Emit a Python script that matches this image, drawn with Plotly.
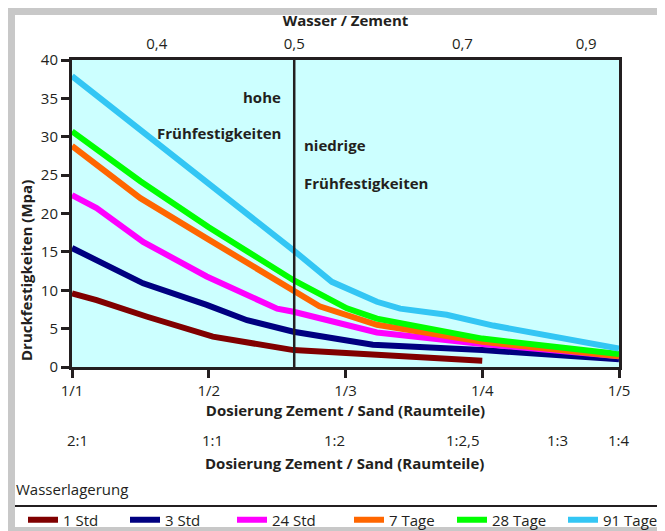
import plotly.graph_objects as go

# ---- data ----
series_names = ["1 Std", "3 Std", "24 Std", "7 Tage", "28 Tage", "91 Tage"]
series_colors = ["#800000", "#000080", "#ff00ff", "#ff6600", "#00ff00", "#33c6f4"]

x_1std = [1, 1.18, 1.55, 2.03, 2.62, 3.25, 4.0]
y_1std = [9.6, 8.7, 6.55, 3.95, 2.2, 1.6, 0.8]

x_3std = [1, 1.52, 1.985, 2.28, 2.62, 3.2, 4.0, 5]
y_3std = [15.5, 10.9, 8.1, 6.1, 4.6, 2.9, 2.2, 1.0]

x_24std = [1, 1.18, 1.52, 1.985, 2.5, 2.62, 3.23, 4.0, 5]
y_24std = [22.4, 20.7, 16.3, 11.8, 7.6, 7.2, 4.5, 3.0, 1.4]

x_7tage = [1, 1.5, 2.0, 2.62, 2.81, 3.23, 4.0, 5]
y_7tage = [28.8, 22.0, 16.6, 9.8, 7.9, 5.5, 3.3, 1.4]

x_28tage = [1, 1.5, 2.0, 2.62, 3.01, 3.23, 4.0, 5]
y_28tage = [30.7, 24.2, 18.2, 11.3, 7.65, 6.3, 3.7, 1.7]

x_91tage = [1, 2.0, 2.62, 2.9, 3.23, 3.4, 3.74, 4.08, 5]
y_91tage = [37.9, 24.0, 15.2, 11.1, 8.5, 7.6, 6.8, 5.4, 2.4]

xs = [x_1std, x_3std, x_24std, x_7tage, x_28tage, x_91tage]
ys = [y_1std, y_3std, y_24std, y_7tage, y_28tage, y_91tage]

bottom_tickvals = [1, 2, 3, 4, 5]
bottom_ticktext = ["1/1", "1/2", "1/3", "1/4", "1/5"]

wz_tickvals = [1.62, 2.625, 3.855, 4.76]
wz_ticktext = ["0,4", "0,5", "0,7", "0,9"]
wz_divider = 2.625

ratio_pos = [1.04, 2.03, 2.92, 3.86, 4.55, 5.0]
ratio_text = ["2:1", "1:1", "1:2", "1:2,5", "1:3", "1:4"]

FONT = "Open Sans"
DARK = "#231f20"
FS = 15

# page body has an 8px offset in the browser; figure sized to fit the window
OFF = 8
W, H = 665 - OFF, 531 - OFF
L, R, T, B = 72 - OFF, 665 - 619, 60 - OFF, 531 - 367
pw, ph = W - L - R, H - T - B


def px_x(sx):
    """screen x pixel -> paper fraction"""
    return (sx - OFF - L) / pw


def px_y(sy):
    """screen y pixel -> paper fraction"""
    return (H - B - (sy - OFF)) / ph


legend_swatch_x = [28, 130, 237, 354, 457, 568]

fig = go.Figure()
for i, (name, color, x, y) in enumerate(zip(series_names, series_colors, xs, ys)):
    lg = "legend" if i == 0 else f"legend{i + 1}"
    fig.add_trace(go.Scatter(x=x, y=y, mode="lines", name=name, legend=lg,
                             line=dict(color=color, width=6)))

# invisible trace to carry the top axis
fig.add_trace(go.Scatter(x=[1, 5], y=[None, None], xaxis="x2", mode="lines",
                         showlegend=False, hoverinfo="skip"))

shapes = [
    # grey frame bands
    dict(type="rect", xref="paper", yref="paper", x0=px_x(0), x1=px_x(700),
         y0=px_y(0), y1=px_y(15), fillcolor="#c8c8c8", line=dict(width=0), layer="below"),
    dict(type="rect", xref="paper", yref="paper", x0=px_x(0), x1=px_x(15),
         y0=px_y(0), y1=px_y(540), fillcolor="#c8c8c8", line=dict(width=0), layer="below"),
    dict(type="rect", xref="paper", yref="paper", x0=px_x(0), x1=px_x(700),
         y0=px_y(527), y1=px_y(540), fillcolor="#c8c8c8", line=dict(width=0), layer="below"),
    # separator above legend
    dict(type="line", xref="paper", yref="paper", x0=px_x(15), x1=px_x(700),
         y0=px_y(506), y1=px_y(506), line=dict(color=DARK, width=2)),
    # W/Z = 0.5 divider
    dict(type="line", xref="x", yref="y", x0=wz_divider, x1=wz_divider, y0=0, y1=40,
         line=dict(color=DARK, width=2.5)),
]

annotations = [
    dict(text="<b>Druckfestigkeiten (Mpa)</b>", xref="paper", yref="paper",
         x=px_x(26), y=px_y(271), textangle=-90, showarrow=False,
         xanchor="center", yanchor="middle",
         font=dict(size=FS, color=DARK, family=FONT)),
    dict(text="<b>hohe</b>", xref="x", yref="y", x=2.545, y=35.2, xanchor="right",
         yanchor="middle", showarrow=False, font=dict(size=FS, color=DARK, family=FONT)),
    dict(text="<b>Frühfestigkeiten</b>", xref="x", yref="y", x=2.545, y=30.5, xanchor="right",
         yanchor="middle", showarrow=False, font=dict(size=FS, color=DARK, family=FONT)),
    dict(text="<b>niedrige</b>", xref="x", yref="y", x=2.68, y=28.9, xanchor="left",
         yanchor="middle", showarrow=False, font=dict(size=FS, color=DARK, family=FONT)),
    dict(text="<b>Frühfestigkeiten</b>", xref="x", yref="y", x=2.68, y=24.0, xanchor="left",
         yanchor="middle", showarrow=False, font=dict(size=FS, color=DARK, family=FONT)),
    dict(text="<b>Dosierung Zement / Sand (Raumteile)</b>", xref="paper", yref="paper",
         x=px_x(344), y=px_y(463), showarrow=False, xanchor="center", yanchor="middle",
         font=dict(size=FS, color=DARK, family=FONT)),
    dict(text="Wasserlagerung", xref="paper", yref="paper", x=px_x(14), y=px_y(489),
         xanchor="left", yanchor="middle", showarrow=False,
         font=dict(size=FS, color=DARK, family=FONT)),
]
for xp, t in zip(ratio_pos, ratio_text):
    annotations.append(dict(text=t, xref="x", yref="paper", x=xp, y=px_y(440),
                            xanchor="center", yanchor="middle", showarrow=False,
                            font=dict(size=FS, color=DARK, family=FONT)))

legends = {}
for i, sx in enumerate(legend_swatch_x):
    key = "legend" if i == 0 else f"legend{i + 1}"
    legends[key] = dict(orientation="h", x=px_x(sx - 5), xanchor="left",
                        y=px_y(520), yanchor="middle",
                        font=dict(size=FS, color=DARK, family=FONT),
                        bgcolor="rgba(0,0,0,0)", borderwidth=0)

fig.update_layout(
    width=W, height=H,
    margin=dict(l=L, r=R, t=T, b=B, pad=0, autoexpand=False),
    paper_bgcolor="white", plot_bgcolor="#ccffff",
    font=dict(family=FONT, size=FS, color=DARK),
    xaxis=dict(range=[1, 5], tickvals=bottom_tickvals, ticktext=bottom_ticktext,
               ticks="outside", ticklen=8, tickwidth=3, tickcolor=DARK,
               showline=True, linewidth=3, linecolor=DARK, mirror=True,
               showgrid=False, zeroline=False, tickfont=dict(size=FS),
               title=dict(text="<b>Dosierung Zement / Sand (Raumteile)</b>",
                          font=dict(size=FS), standoff=0)),
    xaxis2=dict(range=[1, 5], overlaying="x", side="top", tickvals=wz_tickvals,
                ticktext=wz_ticktext, ticks="outside", ticklen=4,
                tickcolor="rgba(0,0,0,0)", showline=False, showgrid=False,
                zeroline=False, tickfont=dict(size=FS),
                title=dict(text="<b>Wasser / Zement</b>", font=dict(size=FS), standoff=2)),
    yaxis=dict(range=[0, 40], dtick=5, ticks="outside", ticklen=8, tickwidth=3,
               tickcolor=DARK, showline=True, linewidth=3, linecolor=DARK, mirror=True,
               showgrid=False, zeroline=False, tickfont=dict(size=FS)),
    shapes=shapes, annotations=annotations,
    **legends,
)

fig.write_html("out.html")
